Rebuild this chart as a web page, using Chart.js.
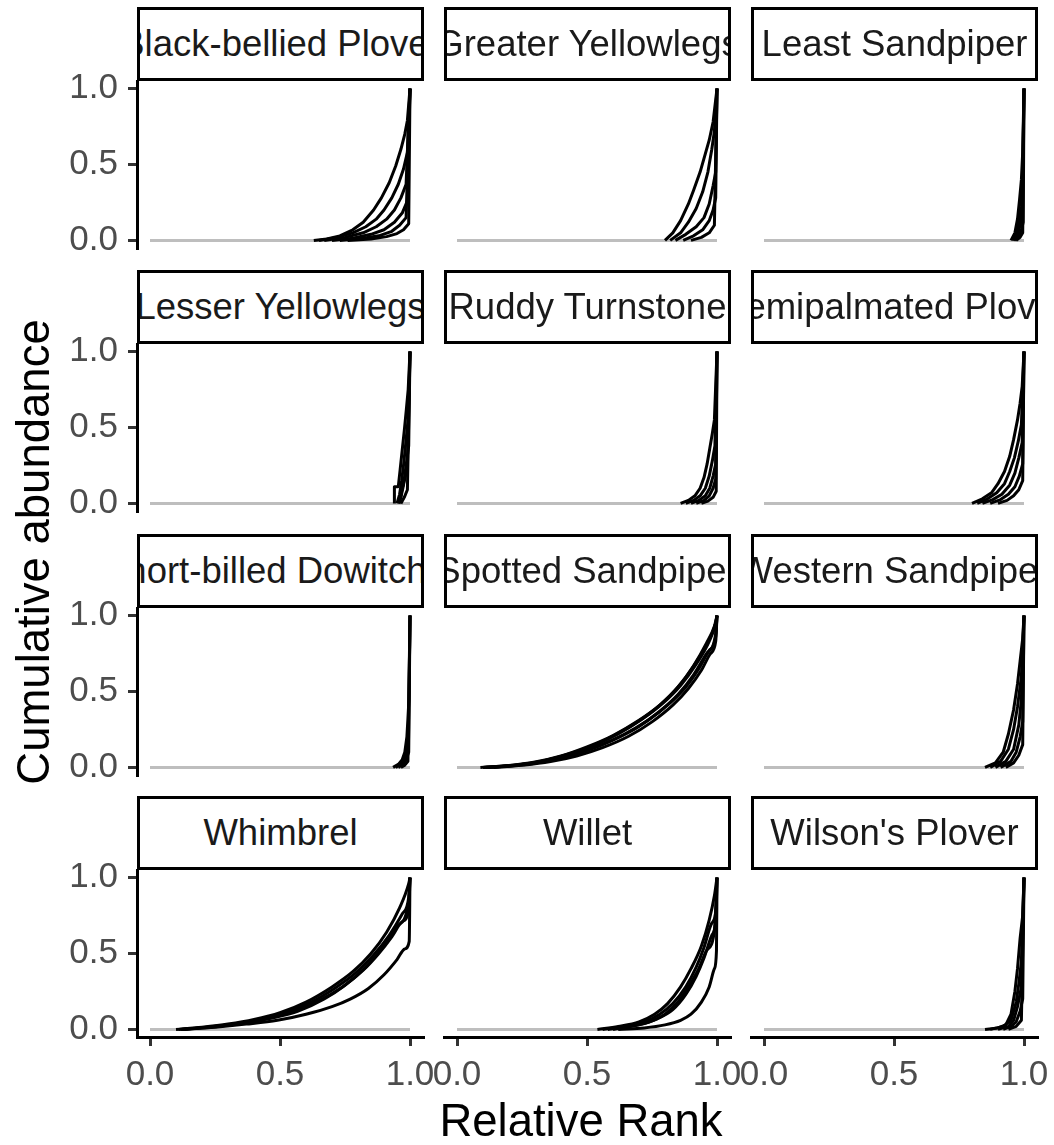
<!DOCTYPE html>
<html>
<head>
<meta charset="utf-8">
<script src="https://cdn.jsdelivr.net/npm/chart.js@4.4.1/dist/chart.umd.min.js"></script>
<style>
  body { margin: 0; background: #fff; }
  #wrap { position: relative; width: 1054px; height: 1145px; overflow: hidden; font-family: 'Liberation Sans', Arial, sans-serif; }
  canvas { position: absolute; }
  .strip { position: absolute; box-sizing: border-box; border: 3px solid #000; background: #fff; display: flex; align-items: center; justify-content: center; overflow: hidden; white-space: nowrap; font-size: 36.5px; color: #1a1a1a; z-index: 2; }
  .title { position: absolute; font-size: 45.5px; color: #000; text-align: center; white-space: nowrap; }
</style>
</head>
<body>
<div id="wrap"></div>
<script>
const speciesNames = ['Black-bellied Plover', 'Greater Yellowlegs', 'Least Sandpiper',
  'Lesser Yellowlegs', 'Ruddy Turnstone', 'Semipalmated Plover',
  'Short-billed Dowitcher', 'Spotted Sandpiper', 'Western Sandpiper',
  'Whimbrel', 'Willet', "Wilson's Plover"];
const xTickValues = [0, 0.5, 1];
const yTickValues = [0, 0.5, 1];
const nullLine = [[0, 0], [1, 0]];

// cumulative abundance curves, points are [relative rank, cumulative abundance]
const blackBelliedPlover = [
  [[0.63,0],[0.68,0.01],[0.73,0.03],[0.78,0.07],[0.82,0.12],[0.86,0.2],[0.89,0.28],[0.92,0.38],[0.945,0.49],[0.965,0.6],[0.98,0.7],[0.99,0.79],[1,1]],
  [[0.65,0],[0.72,0.02],[0.78,0.05],[0.83,0.09],[0.87,0.14],[0.9,0.2],[0.93,0.28],[0.955,0.37],[0.975,0.47],[0.99,0.58],[1,1]],
  [[0.67,0],[0.75,0.02],[0.82,0.05],[0.87,0.09],[0.91,0.14],[0.94,0.2],[0.965,0.28],[0.985,0.37],[1,1]],
  [[0.7,0],[0.78,0.015],[0.85,0.04],[0.9,0.07],[0.94,0.12],[0.97,0.18],[0.99,0.26],[1,1]],
  [[0.73,0],[0.82,0.015],[0.88,0.03],[0.93,0.06],[0.96,0.1],[0.985,0.15],[1,1]],
  [[0.76,0],[0.85,0.01],[0.91,0.025],[0.95,0.045],[0.975,0.07],[0.995,0.11],[1,1]]
];
const greaterYellowlegs = [
  [[0.8,0],[0.83,0.05],[0.86,0.13],[0.89,0.24],[0.91,0.33],[0.935,0.45],[0.955,0.57],[0.97,0.66],[0.985,0.78],[1,1]],
  [[0.82,0],[0.86,0.05],[0.89,0.12],[0.92,0.21],[0.945,0.32],[0.965,0.45],[0.98,0.6],[0.99,0.72],[1,1]],
  [[0.84,0],[0.88,0.04],[0.92,0.09],[0.95,0.15],[0.97,0.24],[0.985,0.36],[0.995,0.45],[1,1]],
  [[0.87,0],[0.91,0.03],[0.945,0.07],[0.97,0.13],[0.985,0.2],[0.995,0.28],[1,1]],
  [[0.9,0],[0.94,0.02],[0.97,0.05],[0.99,0.1],[1,1]]
];
const leastSandpiper = [
  [[0.95,0],[0.965,0.05],[0.975,0.14],[0.983,0.27],[0.99,0.4],[0.995,0.58],[1,1]],
  [[0.955,0],[0.97,0.05],[0.98,0.12],[0.988,0.22],[0.994,0.33],[1,1]],
  [[0.96,0],[0.975,0.04],[0.985,0.1],[0.993,0.18],[1,1]],
  [[0.965,0],[0.98,0.03],[0.99,0.07],[0.997,0.12],[1,1]],
  [[0.97,0],[0.985,0.02],[0.995,0.05],[1,1]]
];
const lesserYellowlegs = [
  [[0.94,0],[0.94,0.11],[0.955,0.11],[0.962,0.22],[0.97,0.35],[0.978,0.48],[0.986,0.62],[0.993,0.75],[1,1]],
  [[0.95,0],[0.96,0.06],[0.968,0.15],[0.977,0.28],[0.985,0.42],[0.993,0.56],[1,1]],
  [[0.955,0],[0.965,0.04],[0.975,0.12],[0.985,0.25],[0.995,0.38],[1,1]],
  [[0.96,0],[0.97,0.1],[0.98,0.16],[0.99,0.24],[1,1]],
  [[0.965,0],[0.978,0.04],[0.99,0.09],[1,1]]
];
const ruddyTurnstone = [
  [[0.86,0],[0.89,0.02],[0.915,0.05],[0.935,0.1],[0.95,0.17],[0.962,0.26],[0.972,0.36],[0.982,0.46],[0.99,0.55],[1,1]],
  [[0.88,0],[0.91,0.02],[0.935,0.05],[0.955,0.1],[0.97,0.18],[0.982,0.28],[0.992,0.38],[1,1]],
  [[0.9,0],[0.93,0.02],[0.955,0.05],[0.972,0.1],[0.985,0.18],[0.995,0.26],[1,1]],
  [[0.92,0],[0.95,0.02],[0.97,0.05],[0.985,0.1],[0.995,0.16],[1,1]],
  [[0.94,0],[0.965,0.015],[0.985,0.04],[0.997,0.08],[1,1]]
];
const semipalmatedPlover = [
  [[0.8,0],[0.84,0.03],[0.875,0.07],[0.9,0.13],[0.925,0.21],[0.945,0.31],[0.96,0.42],[0.975,0.55],[0.985,0.66],[0.993,0.77],[1,1]],
  [[0.82,0],[0.86,0.03],[0.895,0.07],[0.925,0.13],[0.945,0.21],[0.963,0.3],[0.978,0.41],[0.99,0.52],[1,1]],
  [[0.84,0],[0.88,0.025],[0.915,0.06],[0.945,0.12],[0.965,0.2],[0.98,0.3],[0.993,0.4],[1,1]],
  [[0.87,0],[0.91,0.025],[0.94,0.06],[0.965,0.11],[0.982,0.18],[0.995,0.26],[1,1]],
  [[0.9,0],[0.935,0.02],[0.96,0.05],[0.98,0.09],[0.995,0.15],[1,1]]
];
const shortBilledDowitcher = [
  [[0.935,0],[0.955,0.02],[0.97,0.05],[0.98,0.1],[0.988,0.2],[0.992,0.32],[0.996,0.45],[1,1]],
  [[0.945,0],[0.962,0.02],[0.976,0.05],[0.986,0.09],[0.994,0.15],[1,1]],
  [[0.955,0],[0.972,0.02],[0.985,0.05],[0.995,0.1],[1,1]],
  [[0.965,0],[0.98,0.015],[0.992,0.04],[1,1]]
];
const spottedSandpiper = [
  [[0.09,0],[0.2,0.012],[0.3,0.035],[0.4,0.075],[0.5,0.135],[0.6,0.21],[0.7,0.31],[0.78,0.41],[0.85,0.53],[0.91,0.67],[0.96,0.82],[0.99,0.93],[1,1]],
  [[0.1,0],[0.22,0.014],[0.32,0.038],[0.42,0.08],[0.52,0.14],[0.62,0.22],[0.71,0.315],[0.79,0.42],[0.86,0.54],[0.92,0.68],[0.97,0.83],[0.995,0.95],[1,1]],
  [[0.12,0],[0.24,0.016],[0.34,0.04],[0.44,0.082],[0.54,0.14],[0.64,0.215],[0.73,0.305],[0.81,0.41],[0.88,0.53],[0.93,0.65],[0.97,0.77],[0.995,0.86],[1,1]],
  [[0.1,0],[0.2,0.01],[0.3,0.028],[0.4,0.06],[0.5,0.11],[0.6,0.18],[0.7,0.27],[0.78,0.37],[0.85,0.48],[0.91,0.61],[0.96,0.75],[0.995,0.88],[1,1]],
  [[0.14,0],[0.26,0.015],[0.36,0.038],[0.46,0.075],[0.56,0.13],[0.66,0.205],[0.75,0.3],[0.83,0.41],[0.89,0.52],[0.94,0.64],[0.975,0.75],[0.995,0.83],[1,1]],
  [[0.11,0],[0.23,0.016],[0.33,0.042],[0.43,0.088],[0.53,0.15],[0.63,0.235],[0.72,0.33],[0.8,0.44],[0.87,0.57],[0.93,0.72],[0.975,0.86],[0.995,0.95],[1,1]]
];
const westernSandpiper = [
  [[0.85,0],[0.89,0.03],[0.92,0.1],[0.94,0.22],[0.96,0.38],[0.975,0.55],[0.985,0.7],[0.995,0.85],[1,1]],
  [[0.87,0],[0.91,0.04],[0.94,0.12],[0.96,0.25],[0.975,0.4],[0.99,0.6],[1,1]],
  [[0.89,0],[0.93,0.04],[0.96,0.12],[0.98,0.28],[0.99,0.45],[1,1]],
  [[0.91,0],[0.95,0.04],[0.97,0.1],[0.985,0.2],[0.995,0.3],[1,1]],
  [[0.93,0],[0.96,0.03],[0.98,0.08],[0.995,0.15],[1,1]]
];
const whimbrel = [
  [[0.1,0],[0.2,0.015],[0.3,0.035],[0.4,0.065],[0.5,0.11],[0.6,0.18],[0.7,0.28],[0.78,0.38],[0.85,0.5],[0.91,0.64],[0.96,0.8],[0.995,0.96],[1,1]],
  [[0.12,0],[0.22,0.015],[0.32,0.035],[0.42,0.065],[0.52,0.11],[0.62,0.18],[0.71,0.27],[0.79,0.37],[0.86,0.49],[0.92,0.62],[0.97,0.76],[0.995,0.87],[1,1]],
  [[0.11,0],[0.25,0.02],[0.35,0.04],[0.45,0.075],[0.55,0.12],[0.65,0.19],[0.74,0.28],[0.82,0.39],[0.88,0.5],[0.93,0.61],[0.97,0.71],[0.995,0.79],[1,1]],
  [[0.13,0],[0.25,0.018],[0.36,0.04],[0.47,0.075],[0.57,0.12],[0.67,0.2],[0.75,0.29],[0.83,0.41],[0.9,0.55],[0.95,0.68],[0.995,0.84],[1,1]],
  [[0.12,0],[0.25,0.015],[0.37,0.035],[0.49,0.06],[0.6,0.1],[0.7,0.15],[0.77,0.2],[0.84,0.27],[0.9,0.36],[0.95,0.46],[0.98,0.53],[0.997,0.58],[1,1]]
];
const willet = [
  [[0.54,0],[0.62,0.02],[0.7,0.05],[0.76,0.1],[0.81,0.17],[0.86,0.28],[0.9,0.4],[0.94,0.55],[0.97,0.72],[0.99,0.88],[1,1]],
  [[0.56,0],[0.64,0.02],[0.72,0.05],[0.78,0.1],[0.83,0.17],[0.88,0.28],[0.92,0.41],[0.95,0.54],[0.98,0.7],[0.997,0.8],[1,1]],
  [[0.58,0],[0.66,0.02],[0.74,0.05],[0.8,0.1],[0.85,0.18],[0.89,0.28],[0.93,0.4],[0.96,0.52],[0.99,0.65],[1,1]],
  [[0.6,0],[0.7,0.03],[0.77,0.07],[0.83,0.13],[0.88,0.23],[0.92,0.35],[0.95,0.47],[0.98,0.62],[0.995,0.72],[1,1]],
  [[0.62,0],[0.72,0.01],[0.8,0.03],[0.86,0.06],[0.9,0.1],[0.94,0.18],[0.97,0.28],[0.99,0.4],[0.998,0.52],[1,1]]
];
const wilsonsPlover = [
  [[0.85,0],[0.9,0.01],[0.93,0.03],[0.95,0.1],[0.965,0.25],[0.975,0.4],[0.985,0.6],[0.995,0.75],[1,1]],
  [[0.87,0],[0.92,0.02],[0.95,0.06],[0.97,0.18],[0.98,0.3],[0.99,0.45],[1,1]],
  [[0.9,0],[0.94,0.02],[0.96,0.06],[0.975,0.15],[0.99,0.28],[1,1]],
  [[0.92,0],[0.95,0.02],[0.97,0.05],[0.985,0.12],[0.995,0.2],[1,1]],
  [[0.94,0],[0.97,0.02],[0.99,0.06],[1,1]]
];

const allCurves = [blackBelliedPlover, greaterYellowlegs, leastSandpiper,
  lesserYellowlegs, ruddyTurnstone, semipalmatedPlover,
  shortBilledDowitcher, spottedSandpiper, westernSandpiper,
  whimbrel, willet, wilsonsPlover];
const smoothPanels = ['Spotted Sandpiper', 'Whimbrel', 'Willet'];

// panel geometry (plot area of each facet)
const colLeft = [137, 444, 751];
const rowTop = [81, 344, 608, 870];
const panelW = 286, panelH = 167, stripH = 74;

Chart.defaults.font.family = "'Liberation Sans', Arial, sans-serif";
const wrap = document.getElementById('wrap');

function buildConfig(i) {
  const row = Math.floor(i / 3), col = i % 3;
  const smooth = smoothPanels.includes(speciesNames[i]);
  const datasets = allCurves[i].map(c => ({
    data: c,
    borderColor: '#000',
    borderWidth: 3,
    borderJoinStyle: 'round',
    pointRadius: 0,
    fill: false,
    tension: 0,
    cubicInterpolationMode: smooth ? 'monotone' : 'default',
    order: 0
  }));
  datasets.push({ data: nullLine, borderColor: '#bebebe', borderWidth: 3, pointRadius: 0, fill: false, order: 1 });

  const tickFont = { size: 35 };
  return {
    type: 'line',
    data: { datasets },
    options: {
      responsive: false,
      animation: false,
      events: [],
      layout: { padding: { left: col === 0 ? 0 : 24, right: 32, top: 24, bottom: row === 3 ? 4 : 24 } },
      plugins: { legend: { display: false }, tooltip: { enabled: false } },
      scales: {
        x: {
          type: 'linear', min: -0.05, max: 1.05,
          display: row === 3,
          afterBuildTicks: s => { s.ticks = xTickValues.map(v => ({ value: v })); },
          ticks: { autoSkip: false, maxRotation: 0, padding: 8, color: '#4d4d4d', font: tickFont, callback: v => v.toFixed(1) },
          grid: { display: true, drawOnChartArea: false, drawTicks: true, tickLength: 9, lineWidth: 3, color: '#333333' },
          border: { display: true, color: '#000', width: 3 }
        },
        y: {
          type: 'linear', min: -0.05, max: 1.05,
          display: col === 0,
          afterBuildTicks: s => { s.ticks = yTickValues.map(v => ({ value: v })); },
          afterFit: s => { s.width = 137; },
          ticks: { autoSkip: false, padding: 10, color: '#4d4d4d', font: tickFont, callback: v => v.toFixed(1) },
          grid: { display: true, drawOnChartArea: false, drawTicks: true, tickLength: 9, lineWidth: 3, color: '#333333' },
          border: { display: true, color: '#000', width: 3 }
        }
      }
    }
  };
}

function drawPanel(i) {
  const row = Math.floor(i / 3), col = i % 3;
  const canvas = document.createElement('canvas');
  wrap.appendChild(canvas);
  let w = panelW + 200, h = panelH + 120;
  canvas.width = w; canvas.height = h;
  let chart = new Chart(canvas, buildConfig(i));
  const a = chart.chartArea;
  w = Math.round(w + panelW - (a.right - a.left));
  h = Math.round(h + panelH - (a.bottom - a.top));
  chart.destroy();
  canvas.width = w; canvas.height = h;
  chart = new Chart(canvas, buildConfig(i));
  const b = chart.chartArea;
  canvas.style.left = (colLeft[col] - b.left) + 'px';
  canvas.style.top = (rowTop[row] - b.top) + 'px';
}

speciesNames.forEach((name, i) => {
  drawPanel(i);
  const row = Math.floor(i / 3), col = i % 3;
  const d = document.createElement('div');
  d.className = 'strip';
  d.style.left = colLeft[col] + 'px';
  d.style.top = (rowTop[row] - stripH) + 'px';
  d.style.width = (panelW + 1) + 'px';
  d.style.height = stripH + 'px';
  const s = document.createElement('span');
  s.textContent = name;
  d.appendChild(s);
  wrap.appendChild(d);
});

const xt = document.createElement('div');
xt.className = 'title';
xt.textContent = 'Relative Rank';
xt.style.left = (colLeft[0] - 6) + 'px';
xt.style.width = (colLeft[2] + panelW - colLeft[0]) + 'px';
xt.style.top = '1098px';
xt.style.lineHeight = '46px';
wrap.appendChild(xt);

const yt = document.createElement('div');
yt.className = 'title';
yt.textContent = 'Cumulative abundance';
yt.style.width = '600px';
yt.style.height = '50px';
yt.style.lineHeight = '50px';
yt.style.left = (34 - 300) + 'px';
yt.style.top = (552 - 25) + 'px';
yt.style.transform = 'rotate(-90deg)';
wrap.appendChild(yt);
</script>
</body>
</html>
